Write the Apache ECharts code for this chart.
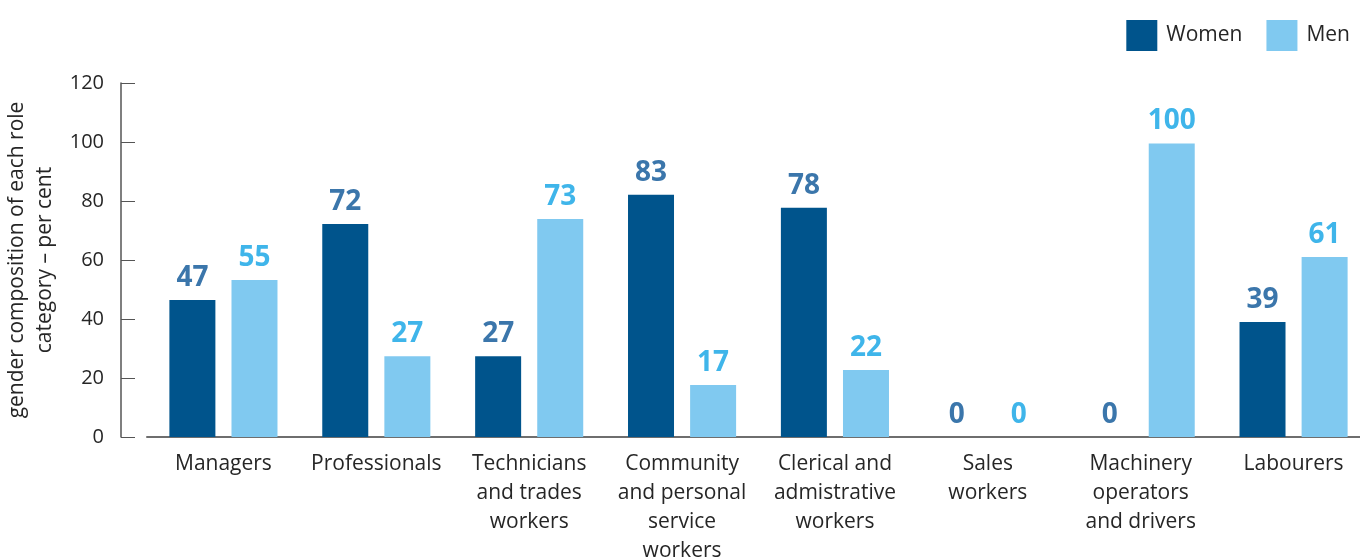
<!DOCTYPE html>
<html>
<head>
<meta charset="utf-8">
<script src="https://cdn.jsdelivr.net/npm/echarts@6/dist/echarts.min.js"></script>
<style>
html,body{margin:0;padding:0;background:#fff;}
#chart{width:1360px;height:559px;}
</style>
</head>
<body>
<div id="chart"></div>
<script>
var categories = ['Managers', 'Professionals', 'Technicians\nand trades\nworkers', 'Community\nand personal\nservice\nworkers', 'Clerical and\nadmistrative\nworkers', 'Sales\nworkers', 'Machinery\noperators\nand drivers', 'Labourers'];
var women = [46.4, 72.2, 27.4, 82.1, 77.7, 0, 0, 39];
var men = [53.2, 27.4, 73.9, 17.6, 22.7, 0, 99.5, 61];
var womenLabels = ['47', '72', '27', '83', '78', '0', '0', '39'];
var menLabels = ['55', '27', '73', '17', '22', '0', '100', '61'];
var yTicks = [0, 20, 40, 60, 80, 100, 120];

var FONT = '"Open Sans", "DejaVu Sans", sans-serif';
var chart = echarts.init(document.getElementById('chart'), null, {renderer: 'canvas'});
chart.setOption({
  animation: false,
  backgroundColor: '#ffffff',
  textStyle: {fontFamily: FONT},
  legend: {
    data: ['Women', 'Men'],
    right: 5,
    top: 15,
    itemWidth: 31,
    itemHeight: 31,
    itemGap: 24,
    icon: 'rect',
    textStyle: {fontFamily: FONT, fontSize: 21, color: '#262626', padding: [0, 0, 0, 4]}
  },
  grid: {left: 147, top: 83, bottom: 122, width: 1223, containLabel: false, outerBoundsMode: 'none'},
  xAxis: {
    type: 'category',
    data: categories,
    axisLine: {lineStyle: {color: '#6e6e6e', width: 2}},
    axisTick: {show: false},
    axisLabel: {interval: 0, fontFamily: FONT, fontSize: 21, color: '#262626', lineHeight: 29, margin: 13}
  },
  yAxis: {
    type: 'value',
    min: yTicks[0],
    max: yTicks[yTicks.length - 1],
    interval: 20,
    offset: 26,
    name: 'gender composition of each role\ncategory \u2013 per cent',
    nameLocation: 'middle',
    nameGap: 53,
    nameTextStyle: {fontFamily: FONT, fontSize: 21, color: '#262626', lineHeight: 28},
    axisLine: {show: true, lineStyle: {color: '#555555', width: 1.5}},
    axisTick: {show: true, inside: true, length: 14, lineStyle: {color: '#555555'}},
    splitLine: {show: false},
    axisLabel: {fontFamily: FONT, fontSize: 20, color: '#262626', margin: 17}
  },
  series: [
    {
      name: 'Women', type: 'bar', data: women, barWidth: 46, barGap: '35%',
      itemStyle: {color: '#00548c'},
      label: {show: true, position: 'top', distance: 8, fontFamily: FONT, fontSize: 28, fontWeight: 'bold', color: '#3b76ab',
        formatter: function (p) { return womenLabels[p.dataIndex]; }}
    },
    {
      name: 'Men', type: 'bar', data: men, barWidth: 46, barGap: '35%',
      itemStyle: {color: '#80c9f0'},
      label: {show: true, position: 'top', distance: 8, fontFamily: FONT, fontSize: 28, fontWeight: 'bold', color: '#3fb5ea',
        formatter: function (p) { return menLabels[p.dataIndex]; }}
    }
  ]
});
</script>
</body>
</html>
